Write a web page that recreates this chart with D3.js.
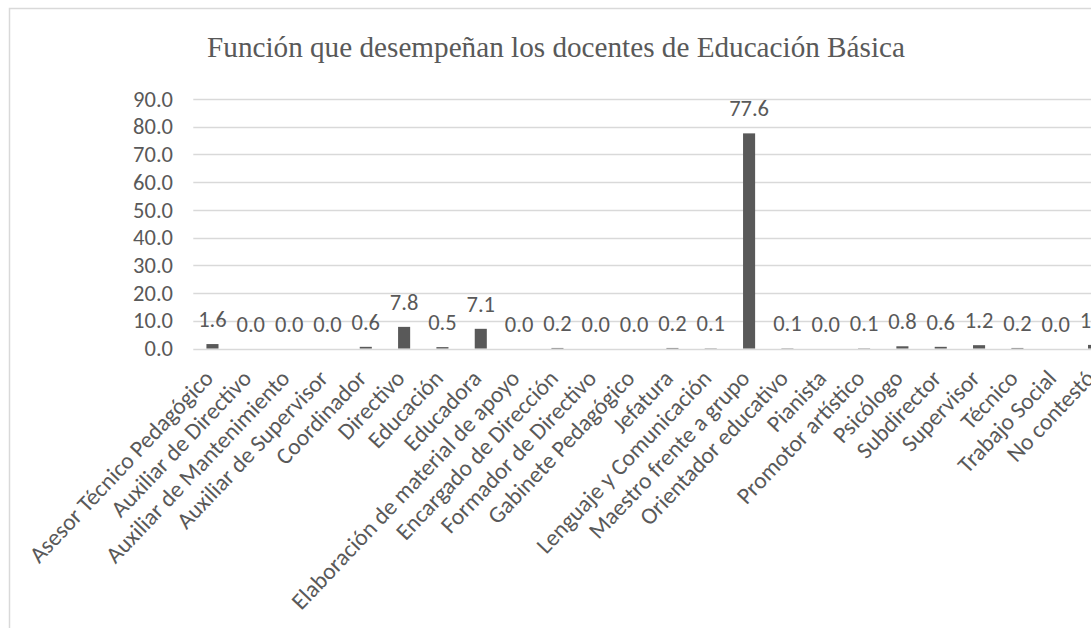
<!DOCTYPE html>
<html>
<head>
<meta charset="utf-8">
<script src="https://cdn.jsdelivr.net/npm/d3@7"></script>
<style>
  html, body { margin: 0; padding: 0; background: #ffffff; overflow: hidden; }
  svg { display: block; }
</style>
</head>
<body>
<svg id="chart" width="1091" height="628"></svg>
<script>
// Categories (function performed) and percentage of teachers
const categories = [
  "Asesor Técnico Pedagógico", "Auxiliar de Directivo", "Auxiliar de Mantenimiento",
  "Auxiliar de Supervisor", "Coordinador", "Directivo", "Educación", "Educadora",
  "Elaboración de material de apoyo", "Encargado de Dirección", "Formador de Directivo",
  "Gabinete Pedagógico", "Jefatura", "Lenguaje y Comunicación", "Maestro frente a grupo",
  "Orientador educativo", "Pianista", "Promotor artístico", "Psicólogo", "Subdirector",
  "Supervisor", "Técnico", "Trabajo Social", "No contestó"
];
const values = [
  1.6, 0.0, 0.0, 0.0, 0.6, 7.8, 0.5, 7.1,
  0.0, 0.2, 0.0, 0.0, 0.2, 0.1, 77.6,
  0.1, 0.0, 0.1, 0.8, 0.6, 1.2, 0.2, 0.0, 1.3
];
const yTicks = [0, 10, 20, 30, 40, 50, 60, 70, 80, 90];
const title = "Función que desempeñan los docentes de Educación Básica";

const svg = d3.select("#chart");
const textColor = "#595959";
const sansFont = "Carlito, 'Open Sans', sans-serif";

// Chart area frame
svg.append("rect")
  .attr("x", 9.5).attr("y", 8.5)
  .attr("width", 1200).attr("height", 800)
  .attr("fill", "#ffffff")
  .attr("stroke", "#d9d9d9")
  .attr("stroke-width", 1.5);

// Title
svg.append("text")
  .attr("x", 556).attr("y", 57)
  .attr("text-anchor", "middle")
  .attr("font-family", "'Liberation Serif', 'Times New Roman', serif")
  .attr("font-size", 29.2)
  .attr("fill", textColor)
  .text(title);

// Plot area
const plotLeft = 193.3;
const step = 38.33;
const x = d3.scaleBand()
  .domain(categories)
  .range([plotLeft, plotLeft + step * categories.length])
  .paddingInner(0.685)
  .paddingOuter(0.3425);

const y = d3.scaleLinear().domain([0, 90]).range([348.5, 99]);

// Gridlines
svg.append("g")
  .selectAll("line")
  .data(yTicks)
  .join("line")
  .attr("x1", plotLeft)
  .attr("x2", plotLeft + step * categories.length)
  .attr("y1", d => Math.round(y(d)) + 0.5)
  .attr("y2", d => Math.round(y(d)) + 0.5)
  .attr("stroke", "#d9d9d9")
  .attr("stroke-width", 1.3);

// Y axis labels
const yAxis = d3.axisLeft(y)
  .tickValues(yTicks)
  .tickFormat(d3.format(".1f"))
  .tickSize(0)
  .tickPadding(0);
const yG = svg.append("g")
  .attr("transform", `translate(173,0)`)
  .call(yAxis);
yG.select(".domain").remove();
yG.selectAll("text")
  .attr("font-family", sansFont)
  .attr("font-size", 22.5)
  .attr("fill", textColor);

// Bars
svg.append("g")
  .selectAll("rect")
  .data(values)
  .join("rect")
  .attr("x", (d, i) => x(categories[i]))
  .attr("width", x.bandwidth())
  .attr("y", d => y(d))
  .attr("height", d => y(0) - y(d))
  .attr("fill", "#595959");

// Value labels
svg.append("g")
  .selectAll("text")
  .data(values)
  .join("text")
  .attr("x", (d, i) => x(categories[i]) + x.bandwidth() / 2)
  .attr("y", d => y(d) - 17)
  .attr("text-anchor", "middle")
  .attr("font-family", sansFont)
  .attr("font-size", 22.5)
  .attr("fill", textColor)
  .text(d => d3.format(".1f")(d));

// Category labels, rotated
const xAxis = d3.axisBottom(x).tickSize(0).tickPadding(0);
const xG = svg.append("g")
  .attr("transform", `translate(0,${y(0)})`)
  .call(xAxis);
xG.select(".domain").remove();
xG.selectAll("text")
  .attr("font-family", sansFont)
  .attr("font-size", 23.5)
  .attr("fill", textColor)
  .attr("text-anchor", "end")
  .attr("dy", null)
  .attr("y", 0)
  .attr("transform", "translate(2,31) rotate(-46.5)");
</script>
</body>
</html>
